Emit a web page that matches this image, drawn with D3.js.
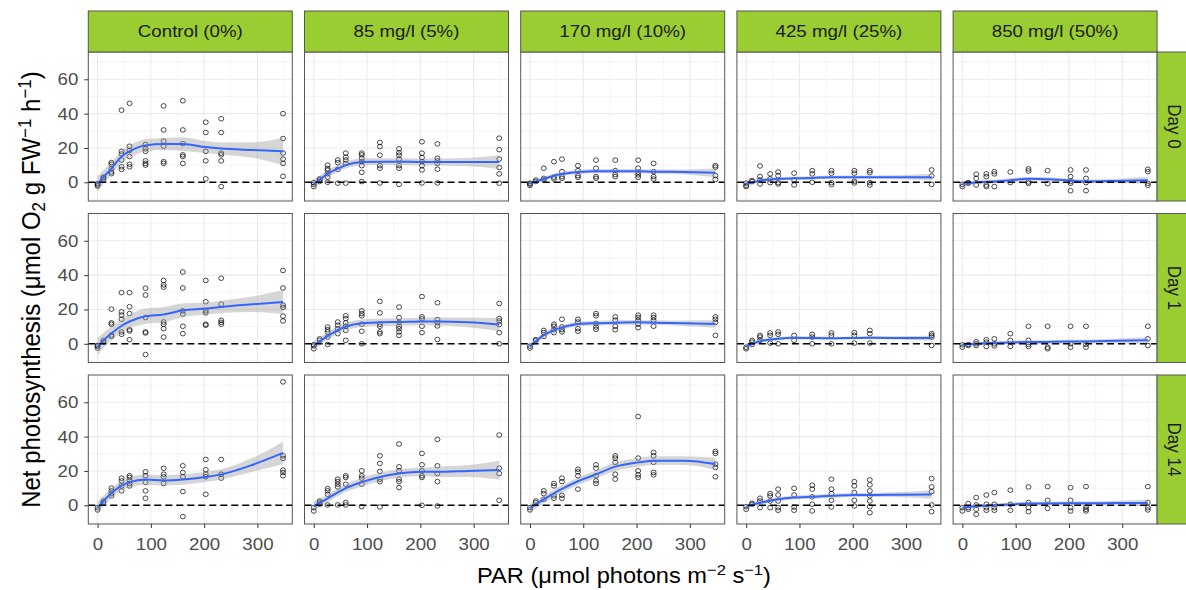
<!DOCTYPE html>
<html><head><meta charset="utf-8">
<script src="https://cdn.jsdelivr.net/npm/d3@7"></script>
<style>body{margin:0;background:#fff} text{font-family:"Liberation Sans", Arial, sans-serif}</style>
</head><body><svg id="chart" width="1186" height="590"></svg>
<script>
// ---------- data ----------
const concentrations = ["Control (0%)", "85 mg/l (5%)", "170 mg/l (10%)", "425 mg/l (25%)", "850 mg/l (50%)"];
const days = ["Day 0", "Day 1", "Day 14"];
const parLevels = [0, 11, 26, 45, 60, 90, 124, 160, 203, 232, 348];
const xTickValues = [0, 100, 200, 300];
const yTickValues = [0, 20, 40, 60];

// observations, one list of values per PAR level
const obs_d0_c0 = [[-1.5,-2.2,-0.8],[1.5,2.5,3],[11.5,10.5,8,6,5],[42,18,16.5,13,9,7.5],[46,21,18.5,15,10.5,9],[22,19.5,18,12.5,11,10],[44.5,30.5,24,21,12,11],[47.5,30.5,22.5,16,15,11],[35,29,18,12.5,2],[37,29,17,16,12.5,-2.5],[40,25.5,17,13.5,11,3.5]];
const obs_d0_c1 = [[-0.2,-1.2,-2.5],[0.5,1.5,2],[10,8,7,5,3,0],[13,11.5,7.5,-0.5],[17,14.6,13,11,-0.5],[17,16,14,12,9.7,5.8,0.4],[23.2,20.8,15.8,9.7,8.2,-0.4],[19.5,17.3,15.8,13.5,9.7,8.2,-1.2],[23.6,17,14.4,12,9.7,7.2,-0.4],[22.4,14,12.5,11,7.6,-0.4],[25.7,19,13.5,8.6,4.9,-0.5]];
const obs_d0_c2 = [[-0.5,-1.8,-1],[0.5,1.3],[8.2,2.3,1.4],[12,3,2],[13.5,6.2,3.3,2.3],[9.7,6.8,3.9,2.9],[12.9,8.2,3.3,2.3],[12.9,6.8,4.5,3.3],[12.9,8.2,5.8,4.3,2.9],[11,6.2,3.3,1.9],[9.7,8.8,3.9,1.7]];
const obs_d0_c3 = [[-0.5,-1.8,-2.5],[0.4,1],[9.5,3.3,1.4,-1],[4.9,2,-0.2],[6,3.9,-0.2,-1],[5.3,1.4,-1.6],[6.8,4.9,0],[6.8,5.3,-0.2,-1.4],[6.8,5.3,0.6,-0.4],[6.8,5.6,-0.2,-1.6],[7.2,3.7,-1.2]];
const obs_d0_c4 = [[-1.2,-2.5],[-0.2,-0.5],[4.7,2.3,-1.6],[4.9,3.3,-1.6,-2.5],[6.2,4.9,-2.5],[6,-0.2],[7.8,6.6,0.2,-0.6],[6.8,-0.8],[7.2,3.3,0.4,-0.6,-4.9],[7.2,2.3,-0.2,-4.9],[7.6,6.2,-0.6,-1.8]];
const obs_d1_c0 = [[-1.4,-2.5,-1],[1,2],[20.2,12.2,11.4,5.1,4.3],[29.8,18.6,16.7,14.3,6.9,5.5],[29.8,21.6,17.6,8.2,7.5,2.4],[32.4,28.4,15.3,6.9,6.3,-6.3],[36.9,34.3,33,12.7,11.4,8.8,3.9],[41.8,32.5,19.2,17.3,10.2,5.9],[36.9,24.5,19.2,18,11.4,10.8],[38.2,23.1,13.7,12.5,11.4],[42.7,32.5,22.5,21.2,16.1,13.3]];
const obs_d1_c1 = [[-1.2,-2.9,-0.5],[2,2.9],[9.8,8.2,6.9,3.9,-0.4],[12.7,10.8,8.8,5.9],[16.3,14.7,12.2,10.2,7.8,2],[19.2,17.6,16.3,11.4,7.3,0],[24.7,18,11.4,10.2,6.9,5.9],[21.4,15.3,12.4,10.2,8.8,6.9,4.9],[27.5,15.7,14.5,10.2,6.5],[23.9,14.1,12.2,10.4,2.5],[23.5,14.7,13.3,11.2,6.5,0]];
const obs_d1_c2 = [[-1.4,-2.5],[2,2.4],[7.8,6.5,4.3],[11.4,10.2,8.2,6.5],[14.3,9.8,8.2,6.9],[14.3,12.7,8.8,7.3],[17.6,16.3,11.8,9.8,8.4],[15.7,13.7,10.2,8.2],[16.7,15.3,13.7,11.4,9.4],[16.7,15.3,13.7,10.2],[15.7,14.3,12.4,4.9]];
const obs_d1_c3 = [[-2,-2.9],[1,2,-0.4],[4.9,3.9,2],[6.3,4.9,0.4],[6.9,5.5,0],[4.9,2],[5.5,3.9,0],[6.3,4.9,0],[6.5,4.9,0.4],[7.8,5.9,0.4],[5.9,4.9,3.9,-1]];
const obs_d1_c4 = [[-0.6,-2],[-0.4,-1],[1.2,0,-1],[2.4,1,-1.6],[2.9,0,-1.2],[5.9,2,-1.6],[10.2,2,-0.4,-1.6],[10.2,-2,-2.9],[10.2,0,-2],[10.2,-0.4,-2],[10.2,2.9,-1]];
const obs_d14_c0 = [[-1.4,-2.7],[1.6,2.5],[10,8.4,6.8,5.5],[15.8,14.2,11.3,8.4],[17.2,16.2,14.6,12.7,11.3],[19.5,17.2,13.3,8.4,4.1],[21.6,18.1,16.6,12.7],[23,19.1,16.6,8,-6.6],[26.7,20.7,18.1,16.6,6.4],[26.7,18.1,15.8],[71.9,28.8,27.3,20.5,19.1,17.2]];
const obs_d14_c1 = [[-1.4,-3.3],[1.6,2.5,0.6],[9.7,8.4,6.4,0.2],[15.2,13.8,12.3,10.7,0.2],[17.2,16.2,12.3,1.6,0.2],[20.1,17.2,15.8,12.3,-0.8],[28.8,24.4,19.7,15.2,13.8,-1],[35.7,22.4,20.1,15.2,13.8,10.3],[30.2,23.6,20.1,17.2,16.2,0],[38.4,23,18.5,13.8,-0.4],[40.9,21.6,18.5,2.9]];
const obs_d14_c2 = [[-1.4,-2.7],[1.6,2.5],[8.4,6.8,3.5],[12.7,11.3,5.5,4.1],[15.8,13.8,5.8,4.1],[21,19.5,17.2,9.4],[23.6,21.6,17.2,14.2,12.7],[28.8,27.5,25,18.1,15.2],[51.7,27.5,20.1,17.7,16.2],[30.8,28.8,25,19.1,17.7],[31.4,30.2,24,22,16.6]];
const obs_d14_c3 = [[-0.8,-2.3],[0.6,1.2],[4.1,2.5,-1.4],[6.8,5.5,2.5,-1.4],[9.4,6,2.5,-1.4,-2.9],[9.9,6,-1,-2.9],[11.7,9.4,4.9,0.6,-3.3],[15.2,9.4,6.8,2.9,-1],[13.8,11.3,7.4,2.9,-0.4],[14.8,11.9,8.4,5.5,2.5,-0.8,-4.3],[15.6,10.7,8,0.2,-3.7]];
const obs_d14_c4 = [[-1.4,-3.3],[1,-1.4,-2.3],[4.5,0.2,-2.3,-5.3],[6,0.6,-1.4,-2.9],[7.4,0.6,-1.4,-2.9],[8.8,0.6,-2.9],[10.7,1.6,-1.4,-3.7],[10.9,2.9,-1.8],[10.3,2.9,-1.4,-3.3],[10.9,-1,-2.3,-3.3],[10.9,1.6,-1.4,-2.7]];

// smoother (fitted value and half-width of the grey band), read at these PAR values
const fitPar = [0, 11, 26, 45, 60, 90, 124, 160, 203, 232, 290, 348];
const fitD0 = [
  [-1, 3, 8, 15, 18, 21.5, 22.3, 22.3, 20.5, 19.7, 18.8, 18],
  [-1, 1.5, 5, 8, 10, 11.8, 12, 12, 11.8, 11.8, 11.8, 11.8],
  [-0.8, 0.5, 2, 3.8, 4.8, 6, 6.5, 6.5, 6.5, 6.2, 6, 5.5],
  [-0.8, -0.2, 1, 1.6, 2, 2.3, 2.5, 3, 3, 3, 3, 3],
  [-1, -0.6, 0, 0.3, 0.5, 1.2, 2, 1.8, 1, 0.5, 0.8, 1.2]];
const seD0 = [
  [4.5, 4, 3.5, 3.5, 3.5, 3.5, 3.5, 4, 3.5, 3.5, 4.5, 8],
  [2.5, 2.3, 2.2, 2, 2, 2, 2, 2, 2, 2, 2.5, 4],
  [1.5, 1.3, 1.2, 1.2, 1.2, 1.2, 1.2, 1.2, 1.2, 1.2, 1.5, 2.5],
  [1.2, 1.1, 1, 1, 1, 1, 1, 1, 1, 1, 1.2, 2],
  [1.3, 1.2, 1.1, 1.1, 1.1, 1.1, 1.1, 1.1, 1.1, 1.1, 1.3, 2]];
const fitD1 = [
  [-1.8, 2, 6, 10.5, 13, 16, 17, 19.5, 20.5, 21.5, 23, 24.3],
  [-1, 1.5, 4.5, 8, 10, 12, 12.5, 12.7, 13, 13, 12.5, 11.2],
  [-1.5, 1.5, 5, 8, 9.5, 11.5, 12, 12.3, 12.5, 12.3, 12, 11.5],
  [-1.5, 0, 1.5, 2.5, 3, 3.5, 3.3, 3.2, 3.4, 3.5, 3.4, 3.3],
  [-0.5, -0.2, 0, 0.3, 0.5, 0.8, 1, 1.1, 1.3, 1.4, 1.7, 2]];
const seD1 = [
  [5, 4.5, 4, 4, 4, 4.5, 4.5, 4, 3.5, 3.5, 4.5, 7],
  [2.5, 2.3, 2.2, 2.2, 2.2, 2.2, 2.2, 2.2, 2.2, 2.3, 2.8, 3.8],
  [1.8, 1.6, 1.5, 1.4, 1.4, 1.4, 1.4, 1.4, 1.4, 1.4, 1.6, 2.2],
  [1, 1, 0.9, 0.9, 0.9, 0.9, 0.9, 0.9, 0.9, 0.9, 1, 1.5],
  [1.2, 1.1, 1, 1, 1, 1, 1, 1, 1, 1, 1.3, 2]];
const fitD14 = [
  [-1.5, 2.5, 7, 11.5, 13.5, 15, 14.5, 15, 16.5, 18, 23.5, 30.5],
  [-0.5, 1.5, 4, 7.5, 10, 13.5, 16.5, 18.5, 19.5, 19.5, 20, 20.5],
  [-1.5, 0.5, 3.5, 7, 9.5, 14, 18, 22.5, 25, 26, 26, 24],
  [-0.8, 0.3, 1.5, 2.7, 3.5, 4.5, 5, 5.5, 6, 6, 6.2, 6.3],
  [-1.5, -1, -0.5, -0.2, 0, 0.5, 1, 1.1, 1.2, 1.2, 1.3, 1.3]];
const seD14 = [
  [3.5, 3.2, 3, 3, 3, 3, 3, 3, 3, 3, 4, 6.5],
  [2.5, 2.4, 2.3, 2.3, 2.3, 2.5, 2.5, 2.5, 2.5, 3, 3.5, 5.5],
  [2.5, 2.3, 2.2, 2.2, 2.2, 2.2, 2.2, 2.5, 2.5, 2.5, 2.5, 3.5],
  [1.3, 1.2, 1.2, 1.2, 1.2, 1.2, 1.2, 1.2, 1.2, 1.2, 1.5, 2.5],
  [1.2, 1.1, 1, 1, 1, 1, 1, 1, 1, 1, 1.3, 2]];

const obsGrid = [
  [obs_d0_c0, obs_d0_c1, obs_d0_c2, obs_d0_c3, obs_d0_c4],
  [obs_d1_c0, obs_d1_c1, obs_d1_c2, obs_d1_c3, obs_d1_c4],
  [obs_d14_c0, obs_d14_c1, obs_d14_c2, obs_d14_c3, obs_d14_c4]];
const fitGrid = [fitD0, fitD1, fitD14];
const seGrid = [seD0, seD1, seD14];

// ---------- layout ----------
const SX = 1.1; // horizontal text stretch seen in the reference
const panelW = 204, panelH = 149;
const left0 = 88.3, colStep = 216.2, top0 = 52, rowStep = 161.5;
const stripH = 41;

const svg = d3.select("#chart");
svg.append("rect").attr("width", 1186).attr("height", 590).attr("fill", "#fff");

const x = d3.scaleLinear().domain([-17.4, 365.4]).range([0, panelW]);
const y = d3.scaleLinear().domain([-10.9, 75.9]).range([panelH, 0]);

const area = d3.area().curve(d3.curveMonotoneX)
  .x(d => x(d.p)).y0(d => y(d.v - d.s)).y1(d => y(d.v + d.s));
const line = d3.line().curve(d3.curveMonotoneX).x(d => x(d.p)).y(d => y(d.v));

days.forEach((day, r) => {
  concentrations.forEach((conc, c) => {
    const L = left0 + c * colStep, T = top0 + r * rowStep;
    const g = svg.append("g").attr("transform", `translate(${L},${T})`);
    g.append("rect").attr("width", panelW).attr("height", panelH).attr("fill", "#fff");
    // grid
    const minorX = [50, 150, 250, 350], minorY = [-10, 10, 30, 50, 70];
    g.selectAll(".mx").data(minorX).join("line").attr("x1", d => x(d)).attr("x2", d => x(d))
      .attr("y1", 0).attr("y2", panelH).attr("stroke", "#F0F0F0").attr("stroke-width", 0.6);
    g.selectAll(".my").data(minorY).join("line").attr("y1", d => y(d)).attr("y2", d => y(d))
      .attr("x1", 0).attr("x2", panelW).attr("stroke", "#F0F0F0").attr("stroke-width", 0.6);
    g.selectAll(".Mx").data(xTickValues).join("line").attr("x1", d => x(d)).attr("x2", d => x(d))
      .attr("y1", 0).attr("y2", panelH).attr("stroke", "#EBEBEB").attr("stroke-width", 1.1);
    g.selectAll(".My").data(yTickValues).join("line").attr("y1", d => y(d)).attr("y2", d => y(d))
      .attr("x1", 0).attr("x2", panelW).attr("stroke", "#EBEBEB").attr("stroke-width", 1.1);

    // points
    const pts = [];
    obsGrid[r][c].forEach((vals, i) => vals.forEach(v => pts.push({p: parLevels[i], v})));
    g.selectAll(".pt").data(pts).join("ellipse")
      .attr("cx", d => x(d.p)).attr("cy", d => y(d.v)).attr("rx", 2.5).attr("ry", 2.3)
      .attr("fill", "none").attr("stroke", "#000").attr("stroke-width", 0.7);

    // smoother
    const fd = fitPar.map((p, i) => ({p, v: fitGrid[r][c][i], s: seGrid[r][c][i]}));
    g.append("path").datum(fd).attr("d", area).attr("fill", "#999").attr("fill-opacity", 0.4);
    g.append("path").datum(fd).attr("d", line).attr("fill", "none")
      .attr("stroke", "#3366FF").attr("stroke-width", 2);

    // zero line
    g.append("line").attr("x1", 0).attr("x2", panelW).attr("y1", y(0)).attr("y2", y(0))
      .attr("stroke", "#000").attr("stroke-width", 1.4).attr("stroke-dasharray", "7,4");

    g.append("rect").attr("width", panelW).attr("height", panelH).attr("fill", "none")
      .attr("stroke", "#555").attr("stroke-width", 1);

    // axes
    if (c === 0) {
      const ax = g.append("g").call(d3.axisLeft(y).tickValues(yTickValues).tickSize(4).tickPadding(5));
      ax.select(".domain").remove();
      ax.selectAll("line").attr("stroke", "#333");
      ax.selectAll("text").attr("font-size", 17).attr("fill", "#4D4D4D")
        .attr("font-family", "Liberation Sans, Arial, sans-serif").attr("transform", `scale(${SX},1)`);
    }
    if (r === days.length - 1) {
      const ax = g.append("g").attr("transform", `translate(0,${panelH})`)
        .call(d3.axisBottom(x).tickValues(xTickValues).tickSize(4).tickPadding(10));
      ax.select(".domain").remove();
      ax.selectAll("line").attr("stroke", "#333");
      ax.selectAll("text").attr("font-size", 17).attr("fill", "#4D4D4D")
        .attr("font-family", "Liberation Sans, Arial, sans-serif").attr("transform", `scale(${SX},1)`);
    }

    // top strips
    if (r === 0) {
      svg.append("rect").attr("x", L).attr("y", top0 - stripH).attr("width", panelW).attr("height", stripH)
        .attr("fill", "#9ACD32").attr("stroke", "#555").attr("stroke-width", 1);
      svg.append("text").attr("transform", `translate(${L + panelW / 2},${top0 - stripH / 2}) scale(${SX},1)`)
        .attr("text-anchor", "middle").attr("dy", "0.35em").attr("font-size", 17).attr("fill", "#1A1A1A").text(conc);
    }
    // right strips
    if (c === concentrations.length - 1) {
      const sx = L + panelW;
      svg.append("rect").attr("x", sx).attr("y", T).attr("width", stripH).attr("height", panelH)
        .attr("fill", "#9ACD32").attr("stroke", "#555").attr("stroke-width", 1);
      svg.append("text").attr("transform", `translate(${sx + 17.5},${T + panelH / 2}) scale(${SX},1) rotate(90)`)
        .attr("text-anchor", "middle").attr("dy", "0.35em").attr("font-size", 17).attr("fill", "#1A1A1A").text(day);
    }
  });
});

// axis titles
const xt = svg.append("text").attr("transform", `translate(624,583) scale(${SX},1)`)
  .attr("text-anchor", "middle").attr("font-size", 21.5).attr("fill", "#000");
xt.append("tspan").text("PAR (μmol photons m");
xt.append("tspan").attr("dy", -8).attr("font-size", 15).text("−2");
xt.append("tspan").attr("dy", 8).text(" s");
xt.append("tspan").attr("dy", -8).attr("font-size", 15).text("−1");
xt.append("tspan").attr("dy", 8).text(")");

const yt = svg.append("text").attr("transform", `translate(40,289.5) scale(1.05,1) rotate(-90)`)
  .attr("text-anchor", "middle").attr("font-size", 24).attr("fill", "#000");
yt.append("tspan").text("Net photosynthesis (μmol O");
yt.append("tspan").attr("dy", 5).attr("font-size", 17).text("2");
yt.append("tspan").attr("dy", -5).text(" g FW");
yt.append("tspan").attr("dy", -9).attr("font-size", 17).text("−1");
yt.append("tspan").attr("dy", 9).text(" h");
yt.append("tspan").attr("dy", -9).attr("font-size", 17).text("−1");
yt.append("tspan").attr("dy", 9).text(")");
</script></body></html>
